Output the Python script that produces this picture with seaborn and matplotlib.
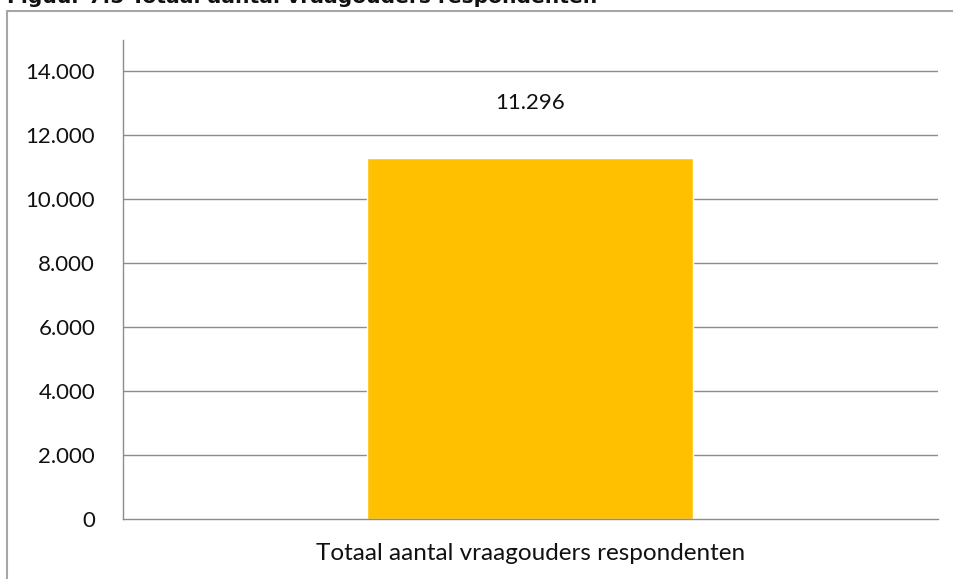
import matplotlib
matplotlib.use("Agg")
import matplotlib.pyplot as plt
from matplotlib.lines import Line2D
import seaborn as sns
import pandas as pd

# Data
categories = ["Totaal aantal vraagouders respondenten"]
values = [11296]
value_labels = ["11.296"]
y_ticks = [0, 2000, 4000, 6000, 8000, 10000, 12000, 14000]
y_tick_labels = ["0", "2.000", "4.000", "6.000", "8.000", "10.000", "12.000", "14.000"]
title = "Figuur 7.5 Totaal aantal vraagouders respondenten"

df = pd.DataFrame({"categorie": categories, "aantal": values})

sns.set_theme(style="white")
plt.rcParams["font.family"] = ["Lato", "DejaVu Sans"]

W, H = 954, 579
fig = plt.figure(figsize=(W / 100, H / 100), dpi=100)
fig.patch.set_facecolor("white")

ax = fig.add_axes([123 / W, (H - 519) / H, (938 - 123) / W, (519 - 40) / H])
sns.barplot(data=df, x="categorie", y="aantal", color="#FFC000",
            saturation=1, width=0.4, ax=ax, zorder=3)

grid_c = "#8c8c8c"
ax.set_xlim(-0.5, 0.5)
ax.set_ylim(0, 14970)
ax.set_yticks(y_ticks)
ax.set_yticklabels(y_tick_labels)
for t in y_ticks[1:]:
    ax.axhline(t, color=grid_c, lw=1.0, zorder=1)

# x axis: boundary ticks at category edges, label centered
ax.set_xticks([-0.5, 0.5])
ax.set_xticklabels(["", ""])
ax.set_xticks([0], minor=True)
ax.set_xticklabels(categories, minor=True)
ax.tick_params(axis="x", which="major", length=8, width=1, color=grid_c, direction="out")
ax.tick_params(axis="x", which="minor", length=0, pad=17, labelsize=17.5, labelcolor="#111111")
ax.tick_params(axis="y", length=8, width=1, color=grid_c, direction="out",
               pad=12, labelsize=16, labelcolor="#111111")
ax.set_xlabel("")
ax.set_ylabel("")

for side in ["top", "right"]:
    ax.spines[side].set_visible(False)
for side in ["left", "bottom"]:
    ax.spines[side].set_color(grid_c)
    ax.spines[side].set_linewidth(1.0)
    ax.spines[side].set_zorder(4)

# value label above the bar
for i, (v, lab) in enumerate(zip(values, value_labels)):
    ax.annotate(lab, xy=(i, v), xytext=(0, 32), textcoords="offset points",
                ha="center", va="bottom", fontsize=16, color="#111111")

# chart frame
frame_c = "#a6a6a6"
fig.add_artist(Line2D([7.5 / W, 7.5 / W], [0, 1 - 11 / H], color=frame_c, lw=1.5,
                      transform=fig.transFigure))
fig.add_artist(Line2D([7.5 / W, 1], [1 - 11 / H, 1 - 11 / H], color=frame_c, lw=1.5,
                      transform=fig.transFigure))

fig.text(7 / W, 1 - 3 / H, title, fontsize=14.6, fontweight="bold",
         family="DejaVu Sans", va="baseline", ha="left", color="#111111")

fig.savefig("out.png", dpi=100, facecolor="white")
